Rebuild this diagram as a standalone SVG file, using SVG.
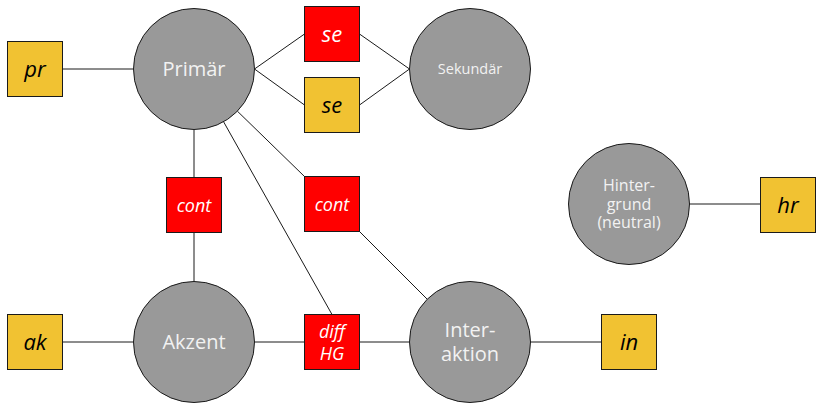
<svg xmlns="http://www.w3.org/2000/svg" width="823" height="412" viewBox="0 0 823 412">
<style>
.c{fill:#999999;stroke:#1a1a1a;stroke-width:1}
.y{fill:#f1c232;stroke:#1a1a1a;stroke-width:1}
.r{fill:#ff0000;stroke:#1a1a1a;stroke-width:1}
.ct{font-family:"Open Sans","DejaVu Sans",sans-serif;fill:#f2f2f2;text-anchor:middle}
.bt{font-family:"Open Sans","DejaVu Sans",sans-serif;font-style:italic;text-anchor:middle}
.bk{fill:#000000}
.wh{fill:#ffffff}
#edges line{stroke:#1a1a1a;stroke-width:1}
</style>
<rect width="823" height="412" fill="#ffffff"/>
<g id="edges">
<line x1="62.5" y1="69" x2="133.5" y2="69"/>
<line x1="254.5" y1="69" x2="304.5" y2="34"/>
<line x1="254.5" y1="69" x2="304.5" y2="105"/>
<line x1="359.5" y1="34" x2="409.5" y2="69"/>
<line x1="359.5" y1="105" x2="409.5" y2="69"/>
<line x1="194" y1="129.5" x2="194" y2="177.5"/>
<line x1="194" y1="232.5" x2="194" y2="281.5"/>
<line x1="237.4" y1="111.2" x2="304.5" y2="176.5"/>
<line x1="359.5" y1="231.5" x2="427.2" y2="299.2"/>
<line x1="223.6" y1="121.8" x2="332" y2="314.5"/>
<line x1="62.5" y1="342" x2="133.5" y2="342"/>
<line x1="254.5" y1="342" x2="304.5" y2="342"/>
<line x1="359.5" y1="342" x2="409.5" y2="342"/>
<line x1="530.5" y1="342" x2="601.5" y2="342"/>
<line x1="689.5" y1="204" x2="760.5" y2="204"/>
</g>
<g id="primaer"><circle class="c" cx="194" cy="69" r="60.5"/><text class="ct" x="194" y="76" font-size="20">Primär</text></g>
<g id="sekundaer"><circle class="c" cx="470" cy="69" r="60.5"/><text class="ct" x="470" y="74" font-size="14.5">Sekundär</text></g>
<g id="hintergrund"><circle class="c" cx="629" cy="204" r="60.5"/><text class="ct" font-size="16"><tspan x="629" y="191">Hinter-</tspan><tspan x="629" y="209.5">grund</tspan><tspan x="629" y="228">(neutral)</tspan></text></g>
<g id="akzent"><circle class="c" cx="194" cy="342" r="60.5"/><text class="ct" x="194" y="349" font-size="20">Akzent</text></g>
<g id="interaktion"><circle class="c" cx="470" cy="342" r="60.5"/><text class="ct" font-size="20"><tspan x="470" y="337">Inter-</tspan><tspan x="470" y="361">aktion</tspan></text></g>
<g id="pr"><rect class="y" x="7.5" y="41.5" width="55" height="55"/><text class="bt bk" x="35" y="77" font-size="22">pr</text></g>
<g id="se-red"><rect class="r" x="304.5" y="6.5" width="55" height="55"/><text class="bt wh" x="332" y="42" font-size="22">se</text></g>
<g id="se-yellow"><rect class="y" x="304.5" y="77.5" width="55" height="55"/><text class="bt bk" x="332" y="113" font-size="22">se</text></g>
<g id="cont-left"><rect class="r" x="166.5" y="177.5" width="55" height="55"/><text class="bt wh" x="194" y="212" font-size="18">cont</text></g>
<g id="cont-right"><rect class="r" x="304.5" y="176.5" width="55" height="55"/><text class="bt wh" x="332" y="211" font-size="18">cont</text></g>
<g id="diffhg"><rect class="r" x="304.5" y="314.5" width="55" height="55"/><text class="bt wh" font-size="18"><tspan x="332" y="337.5">diff</tspan><tspan x="332" y="359.5">HG</tspan></text></g>
<g id="ak"><rect class="y" x="7.5" y="314.5" width="55" height="55"/><text class="bt bk" x="35" y="350" font-size="22">ak</text></g>
<g id="in"><rect class="y" x="601.5" y="314.5" width="55" height="55"/><text class="bt bk" x="629" y="350" font-size="22">in</text></g>
<g id="hr"><rect class="y" x="760.5" y="177.5" width="55" height="55"/><text class="bt bk" x="788" y="213" font-size="22">hr</text></g>
</svg>
